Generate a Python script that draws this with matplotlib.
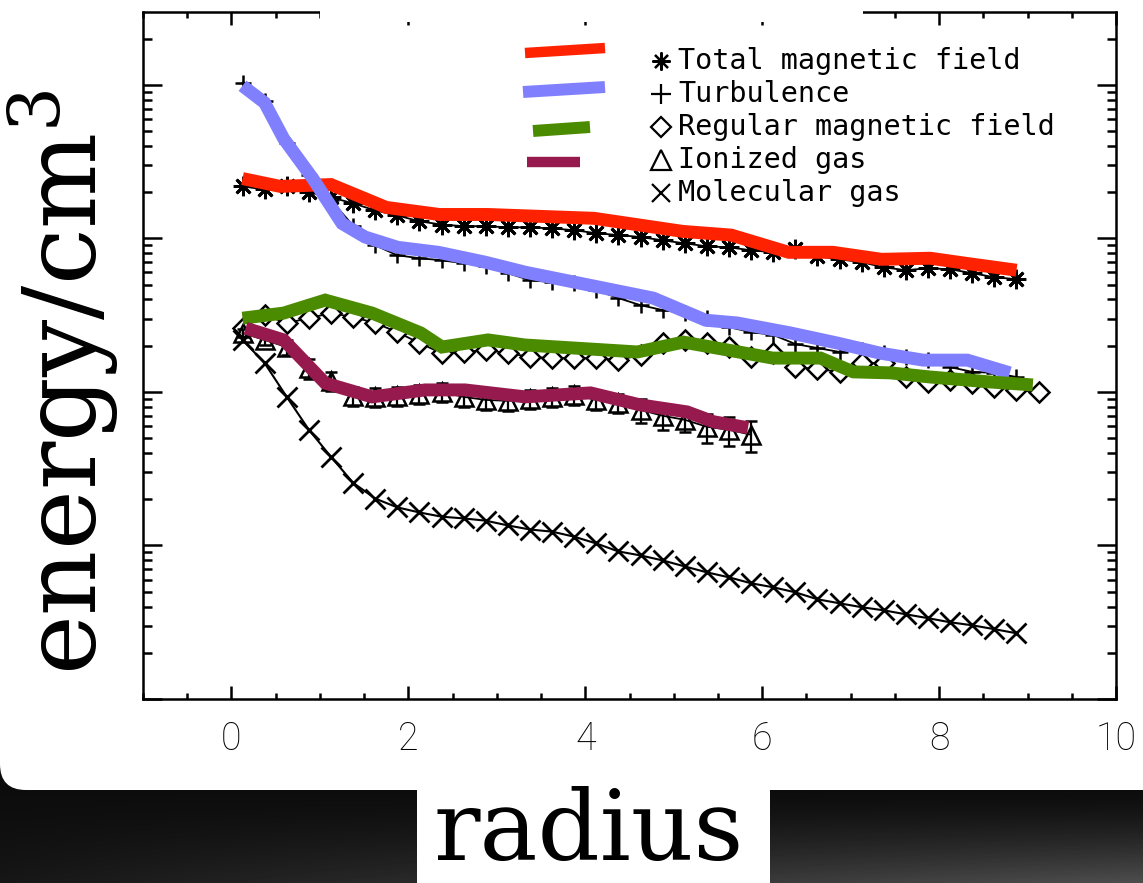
import numpy as np
import matplotlib
matplotlib.use("Agg")
import matplotlib.pyplot as plt
from matplotlib.patches import FancyBboxPatch, Rectangle
from matplotlib.ticker import FixedLocator, MultipleLocator, LogLocator, NullFormatter

plt.rcParams['mathtext.fontset'] = 'dejavuserif'

# ---------------- data ----------------
radius = [0.125, 0.375, 0.625, 0.875, 1.125, 1.375, 1.625, 1.875, 2.125, 2.375,
          2.625, 2.875, 3.125, 3.375, 3.625, 3.875, 4.125, 4.375, 4.625, 4.875,
          5.125, 5.375, 5.625, 5.875, 6.125, 6.375, 6.625, 6.875, 7.125, 7.375,
          7.625, 7.875, 8.125, 8.375, 8.625, 8.875, 9.125]

total_field = [2.18e-11, 2.08e-11, 2.18e-11, 1.99e-11, 1.85e-11, 1.69e-11, 1.52e-11, 1.41e-11,
               1.29e-11, 1.23e-11, 1.20e-11, 1.20e-11, 1.18e-11, 1.18e-11, 1.16e-11, 1.13e-11,
               1.08e-11, 1.05e-11, 1.02e-11, 9.70e-12, 9.28e-12, 8.87e-12, 8.74e-12, 8.36e-12,
               8.11e-12, 8.48e-12, 7.64e-12, 7.30e-12, 6.99e-12, 6.48e-12, 6.20e-12, 6.39e-12,
               6.29e-12, 5.93e-12, 5.58e-12, 5.42e-12]

turbulence = [1.03e-10, 7.87e-11, 4.20e-11, 2.57e-11, 1.77e-11, 1.21e-11, 9.01e-12, 7.76e-12,
              7.42e-12, 7.20e-12, 6.88e-12, 6.58e-12, 5.93e-12, 5.34e-12, 5.18e-12, 5.10e-12,
              4.60e-12, 4.08e-12, 3.67e-12, 3.41e-12, 3.26e-12, 3.02e-12, 2.64e-12, 2.45e-12,
              2.35e-12, 2.05e-12, 1.93e-12, 1.82e-12, 1.87e-12, 1.79e-12, 1.69e-12, 1.61e-12,
              1.45e-12, 1.35e-12, 1.33e-12, 1.25e-12]

regular_field = [2.60e-12, 3.16e-12, 2.81e-12, 3.02e-12, 3.26e-12, 3.07e-12, 2.81e-12, 2.45e-12,
                 2.08e-12, 1.79e-12, 1.82e-12, 1.87e-12, 1.79e-12, 1.69e-12, 1.66e-12, 1.66e-12,
                 1.66e-12, 1.61e-12, 1.74e-12, 2.08e-12, 2.18e-12, 2.08e-12, 1.96e-12, 1.69e-12,
                 1.79e-12, 1.45e-12, 1.41e-12, 1.35e-12, 1.54e-12, 1.54e-12, 1.25e-12, 1.16e-12,
                 1.20e-12, 1.14e-12, 1.08e-12, 1.03e-12, 1.00e-12]

ionized_gas = [2.42e-12, 2.18e-12, 1.96e-12, 1.43e-12, 1.18e-12, 9.42e-13, 9.28e-13, 9.42e-13,
               9.70e-13, 1.00e-12, 9.28e-13, 8.87e-13, 8.74e-13, 9.01e-13, 9.28e-13, 9.56e-13,
               8.87e-13, 8.48e-13, 7.64e-13, 6.99e-13, 6.58e-13, 5.93e-13, 5.67e-13, 5.26e-13]
ionized_err = [1.5e-13, 1.7e-13, 2.2e-13, 2.1e-13, 1.7e-13, 1.36e-13, 1.34e-13, 1.36e-13,
               1.40e-13, 1.44e-13, 1.34e-13, 1.28e-13, 1.26e-13, 1.30e-13, 1.34e-13, 1.38e-13,
               1.28e-13, 1.22e-13, 1.37e-13, 1.37e-13, 1.06e-13, 1.27e-13, 1.21e-13, 1.23e-13]

molecular_gas = [2.18e-12, 1.54e-12, 9.28e-13, 5.67e-13, 3.78e-13, 2.56e-13, 2.02e-13, 1.77e-13,
                 1.64e-13, 1.54e-13, 1.50e-13, 1.45e-13, 1.35e-13, 1.27e-13, 1.23e-13, 1.14e-13,
                 1.03e-13, 9.14e-14, 8.61e-14, 7.99e-14, 7.30e-14, 6.68e-14, 6.20e-14, 5.67e-14,
                 5.34e-14, 4.95e-14, 4.46e-14, 4.20e-14, 3.96e-14, 3.78e-14, 3.56e-14, 3.36e-14,
                 3.16e-14, 3.02e-14, 2.85e-14, 2.68e-14]

# thick coloured curves (their own sampling)
red_r = [0.125, 0.55, 1.125, 1.75, 2.35, 2.9, 4.1, 5.1, 5.65, 6.3, 6.8, 7.35, 7.9, 8.3, 8.875]
red_v = [2.45e-11, 2.18e-11, 2.24e-11, 1.59e-11, 1.43e-11, 1.43e-11, 1.35e-11, 1.11e-11,
         1.05e-11, 8.11e-12, 8.11e-12, 7.30e-12, 7.42e-12, 6.88e-12, 6.20e-12]

blue_r = [0.125, 0.375, 0.59, 0.92, 1.25, 1.51, 1.88, 2.34, 2.87, 3.32, 4.77, 5.36, 5.72,
          6.32, 6.85, 7.33, 7.82, 8.32, 8.80]
blue_v = [9.85e-11, 7.64e-11, 4.46e-11, 2.45e-11, 1.25e-11, 1.02e-11, 8.74e-12, 8.11e-12,
          6.99e-12, 6.02e-12, 4.08e-12, 2.93e-12, 2.81e-12, 2.42e-12, 2.08e-12, 1.79e-12,
          1.61e-12, 1.61e-12, 1.33e-12]

green_r = [0.125, 0.59, 1.06, 1.59, 2.14, 2.38, 2.90, 3.32, 4.59, 5.11, 6.12, 6.66, 7.03,
           7.45, 7.90, 8.58, 9.06]
green_v = [3.02e-12, 3.26e-12, 3.96e-12, 3.26e-12, 2.42e-12, 1.96e-12, 2.18e-12, 2.02e-12,
           1.82e-12, 2.11e-12, 1.66e-12, 1.66e-12, 1.35e-12, 1.33e-12, 1.25e-12, 1.16e-12,
           1.11e-12]

purple_r = [0.16, 0.59, 1.06, 1.59, 2.19, 2.64, 3.32, 4.06, 4.62, 5.15, 5.45, 5.84]
purple_v = [2.60e-12, 2.18e-12, 1.14e-12, 9.28e-13, 1.03e-12, 1.03e-12, 9.28e-13, 9.85e-13,
            8.23e-13, 7.41e-13, 6.39e-13, 5.84e-13]

x_ticks = [0, 2, 4, 6, 8, 10]
x_ticklabels = ['0', '2', '4', '6', '8', '10']
legend_labels = ['Total magnetic field', 'Turbulence', 'Regular magnetic field',
                 'Ionized gas', 'Molecular gas']

RED, BLUE, GREEN, PURPLE = '#ff2200', '#8080ff', '#4b8b00', '#961a4e'

# ---------------- figure ----------------
W, H = 1143, 883
fig = plt.figure(figsize=(W / 100, H / 100), dpi=100)
fig.patch.set_facecolor('#101010')

# background (dark gradient) + white rounded panel
bg = fig.add_axes([0, 0, 1, 1], zorder=-10)
bg.set_xlim(0, W)
bg.set_ylim(H, 0)
bg.axis('off')
yy, xx = np.mgrid[0:H:4, 0:W:4]
t = np.clip((yy - 790) / 93.0, 0, 1)
shade = 0.05 + 0.26 * t ** 1.4 * (0.15 + 0.85 * xx / W)
bg.imshow(shade, cmap='gray', vmin=0, vmax=1, extent=[0, W, H, 0], aspect='auto',
          interpolation='bilinear')
bg.add_patch(FancyBboxPatch((0, -60), W + 100, 850, boxstyle="round,pad=0,rounding_size=26",
                            fc='white', ec='none'))
bg.add_patch(Rectangle((417, 700), 353, 200, fc='white', ec='none'))

# main axes
L, R, T, B = 143, 1116, 12, 699
ax = fig.add_axes([L / W, (H - B) / H, (R - L) / W, (B - T) / H])
ax.set_facecolor('white')
ax.set_yscale('log')
ax.set_xlim(-1, 10)
ax.set_ylim(1e-14, 10 ** -9.526)

ax.xaxis.set_major_locator(FixedLocator(x_ticks))
ax.xaxis.set_minor_locator(MultipleLocator(0.5))
ax.set_xticklabels(x_ticklabels, fontsize=27, fontfamily='Roboto', fontweight='light')
ax.yaxis.set_major_locator(LogLocator(base=10, numticks=20))
ax.yaxis.set_minor_locator(LogLocator(base=10, subs=np.arange(2, 10), numticks=40))
ax.yaxis.set_major_formatter(NullFormatter())
ax.yaxis.set_minor_formatter(NullFormatter())

ax.tick_params(which='both', direction='in', top=True, right=True, width=1.8, color='black')
ax.tick_params(axis='x', which='major', length=9.4, pad=15.5)
ax.tick_params(axis='x', which='minor', length=4.3)
ax.tick_params(axis='y', which='major', length=13.5)
ax.tick_params(axis='y', which='minor', length=6.5)
for s in ax.spines.values():
    s.set_linewidth(1.8)

r36 = radius[:36]
# black symbol series
ax.plot(r36, total_field, color='black', lw=1.3, marker=(8, 2, 0), ms=14, mew=2.0, zorder=3)
ax.plot(r36, turbulence, color='black', lw=1.3, marker='+', ms=11, mew=1.8, zorder=3)
ax.plot(radius, regular_field, color='black', lw=1.3, marker='D', ms=10, mew=1.8,
        mfc='white', zorder=3)
ax.errorbar(radius[:24], ionized_gas, yerr=ionized_err, fmt='none', ecolor='black',
            elinewidth=1.6, capsize=4.6, capthick=1.8, zorder=3)
ax.plot(radius[:24], ionized_gas, color='black', lw=1.3, marker='^', ms=13, mew=1.8,
        mfc='none', zorder=3)
ax.plot(r36, molecular_gas, color='black', lw=1.5, marker='x', ms=14, mew=2.0, zorder=3)

# thick coloured curves on top
for rr, vv, c in [(red_r, red_v, RED), (blue_r, blue_v, BLUE),
                  (green_r, green_v, GREEN), (purple_r, purple_v, PURPLE)]:
    ax.plot(rr, vv, color=c, lw=9.3, solid_capstyle='butt', solid_joinstyle='miter', zorder=4)

# legend (drawn by hand, IDL style)
def fx(px):
    return (px - L) / (R - L)

def fy(py):
    return (B - py) / (B - T)

leg_lines = [((525, 53), (605, 48), RED, 7.5), ((523, 92), (605, 87), BLUE, 8.6),
             ((533, 131), (590, 127), GREEN, 8.6), ((527, 162), (580, 162), PURPLE, 7.5)]
for (x0, y0), (x1, y1), c, lw in leg_lines:
    ax.plot([fx(x0), fx(x1)], [fy(y0), fy(y1)], color=c, lw=lw, solid_capstyle='butt',
            transform=ax.transAxes, clip_on=False, zorder=5)

leg_markers = [dict(marker=(8, 2, 0), ms=13), dict(marker='+', ms=15),
               dict(marker='D', ms=10.5, mfc='none'), dict(marker='^', ms=14, mfc='none'),
               dict(marker='x', ms=13)]
rows = [61, 94, 127, 160, 193]
for lab, mk, ry in zip(legend_labels, leg_markers, rows):
    ax.plot([fx(661)], [fy(ry)], color='black', mew=1.6, transform=ax.transAxes,
            clip_on=False, zorder=5, **mk)
    ax.text(fx(678), fy(ry), lab, transform=ax.transAxes, fontsize=20.5,
            fontfamily='DejaVu Sans Mono', va='center', ha='left', zorder=5)

# axis titles
fig.text(97 / W, (H - 382) / H, 'energy/cm$^3$', rotation=90, rotation_mode='anchor',
         ha='center', va='baseline', fontsize=73, fontfamily='DejaVu Serif')
fig.text(589 / W, (H - 860) / H, 'radius', ha='center', va='baseline', fontsize=70,
         fontfamily='DejaVu Serif')

# white strip hiding part of the top frame (as in the original)
fig.add_artist(Rectangle((320 / W, (H - 22) / H), (863 - 320) / W, 22 / H,
                         transform=fig.transFigure, fc='white', ec='none', zorder=10))

fig.savefig('out.png', dpi=100, facecolor=fig.get_facecolor())
